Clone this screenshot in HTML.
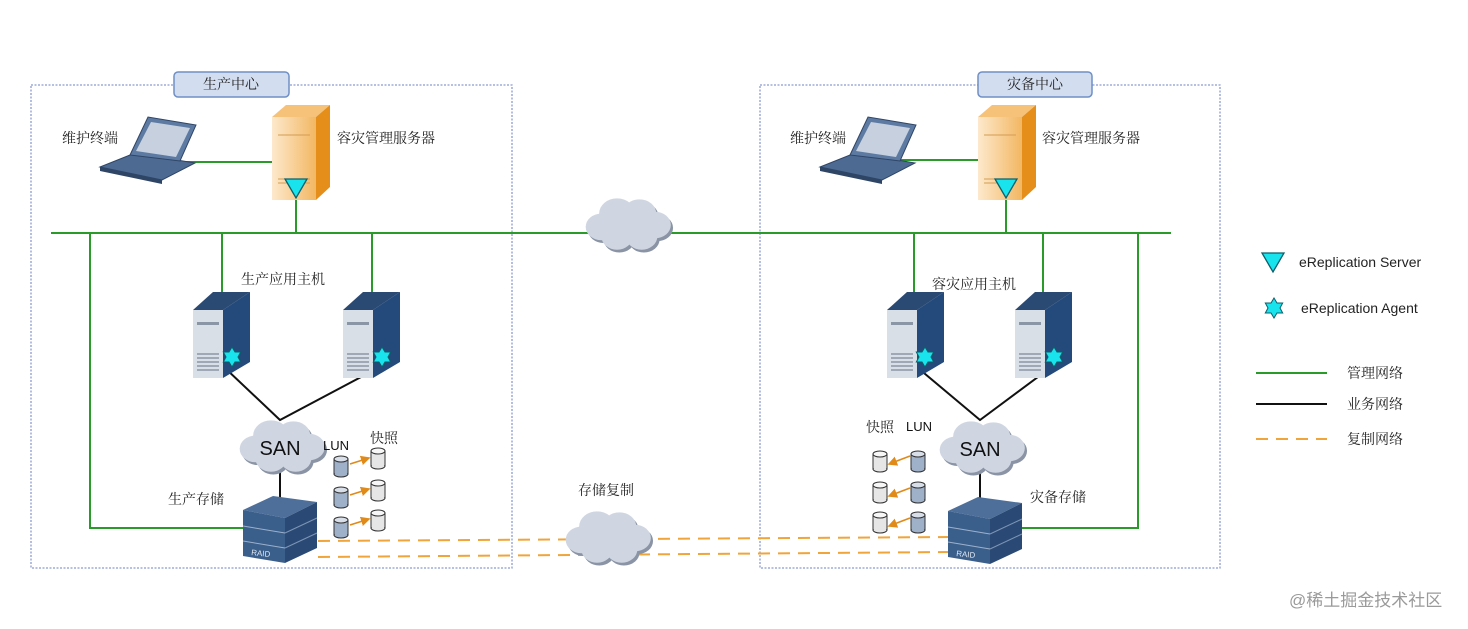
<!DOCTYPE html>
<html><head><meta charset="utf-8"><style>
html,body{margin:0;padding:0;background:#fff;}
svg{display:block;}
text{font-family:"Liberation Sans","Noto Sans CJK SC",sans-serif;}
.cn{font-family:"Liberation Serif","Noto Serif CJK SC",serif;font-size:14px;fill:#222;}
</style></head><body>
<svg width="1468" height="629" viewBox="0 0 1468 629" xmlns="http://www.w3.org/2000/svg">
<defs>
<marker id="ah" markerWidth="6" markerHeight="6" refX="5" refY="3" orient="auto"><polygon points="0,0 6,3 0,6" fill="#e08a1a"/></marker>
<g id="cloudS">
 <g fill="#8a94a4" transform="translate(2,3)">
  <circle cx="-22" cy="2" r="14"/><circle cx="-8" cy="-12" r="16"/><circle cx="12" cy="-12" r="15"/><circle cx="26" cy="0" r="14"/><circle cx="14" cy="12" r="14"/><circle cx="-8" cy="12" r="14"/><circle cx="0" cy="0" r="18"/>
 </g>
 <g fill="#cfd6e2">
  <circle cx="-22" cy="2" r="14"/><circle cx="-8" cy="-12" r="16"/><circle cx="12" cy="-12" r="15"/><circle cx="26" cy="0" r="14"/><circle cx="14" cy="12" r="14"/><circle cx="-8" cy="12" r="14"/><circle cx="0" cy="0" r="18"/>
 </g>
</g>
<g id="cloud"><use href="#cloudS" transform="scale(1.12,0.95)"/></g>
<g id="laptop">
 <polygon points="0,52 62,65 95,48 35,38" fill="#4d6a93" stroke="#2f4566"/>
 <polygon points="30,40 48,2 96,10 80,46" fill="#5d7aa3" stroke="#2f4566"/>
 <polygon points="36,36 51,7 90,13 76,42" fill="#c6d0de"/>
 <polygon points="0,52 62,65 62,69 0,56" fill="#2f4566"/>
</g>
<linearGradient id="og" x1="0" x2="1"><stop offset="0" stop-color="#fde9cc"/><stop offset="1" stop-color="#f2b762"/></linearGradient>
<g id="mserver">
 <polygon points="0,12 14,0 58,0 44,12" fill="#f6c27a"/>
 <polygon points="44,12 58,0 58,82 44,95" fill="#e58e1a"/>
 <rect x="0" y="12" width="44" height="83" fill="url(#og)"/>
 <line x1="6" y1="30" x2="38" y2="30" stroke="#d39c55"/>
 <line x1="6" y1="74" x2="38" y2="74" stroke="#d39c55"/>
 <line x1="6" y1="78" x2="38" y2="78" stroke="#d39c55"/>
</g>
<g id="host">
 <polygon points="0,18 20,0 57,0 30,18" fill="#2b4a73"/>
 <polygon points="30,18 57,0 57,70 30,86" fill="#234a7a"/>
 <rect x="0" y="18" width="30" height="68" fill="#d9dfe7"/>
 <rect x="4" y="30" width="22" height="3" fill="#8a96a6"/>
 <g stroke="#7c8898" stroke-width="1.3"><line x1="4" y1="62" x2="26" y2="62"/><line x1="4" y1="66" x2="26" y2="66"/><line x1="4" y1="70" x2="26" y2="70"/><line x1="4" y1="74" x2="26" y2="74"/><line x1="4" y1="78" x2="26" y2="78"/></g>
</g>
<polygon id="star" points="0,-10 3,-5 8.7,-5 6,0 8.7,5 3,5 0,10 -3,5 -8.7,5 -6,0 -8.7,-5 -3,-5" fill="#19e3ec" stroke="#0c5f6a" stroke-width="1"/>
<polygon id="tri" points="-11,-9 11,-9 0,10" fill="#19e3ec" stroke="#0c5f6a" stroke-width="1.3"/>
<g id="stor">
 <polygon points="0,14 30,0 74,6 42,22" fill="#4d6f99"/>
 <polygon points="0,14 42,22 42,67 0,60" fill="#3b5f8b"/>
 <polygon points="42,22 74,6 74,52 42,67" fill="#2a4a75"/>
 <line x1="0" y1="30" x2="42" y2="37" stroke="#9bb0cc"/>
 <line x1="0" y1="45" x2="42" y2="52" stroke="#9bb0cc"/>
 <line x1="42" y1="37" x2="74" y2="22" stroke="#7d95b5"/>
 <line x1="42" y1="52" x2="74" y2="37" stroke="#7d95b5"/>
 <text x="8" y="59" font-size="8" fill="#dfe7f2" transform="rotate(6 8 59)">RAID</text>
</g>
<g id="cylB"><rect x="-7" y="-7" width="14" height="15" fill="#9fb0c9" stroke="#333"/><ellipse cx="0" cy="8" rx="7" ry="3" fill="#9fb0c9" stroke="#333"/><rect x="-6.5" y="-6" width="13" height="13" fill="#9fb0c9"/><ellipse cx="0" cy="-7" rx="7" ry="3" fill="#d9dfe9" stroke="#333"/></g>
<g id="cylW"><rect x="-7" y="-7" width="14" height="15" fill="#e6e6e6" stroke="#333"/><ellipse cx="0" cy="8" rx="7" ry="3" fill="#e6e6e6" stroke="#333"/><rect x="-6.5" y="-6" width="13" height="13" fill="#e6e6e6"/><ellipse cx="0" cy="-7" rx="7" ry="3" fill="#f7f7f7" stroke="#333"/></g>
</defs>

<rect x="31" y="85" width="481" height="483" fill="none" stroke="#8a9bd0" stroke-width="1.3" stroke-dasharray="2,1.5"/>
<rect x="760" y="85" width="460" height="483" fill="none" stroke="#8a9bd0" stroke-width="1.3" stroke-dasharray="2,1.5"/>
<rect x="174" y="72" width="115" height="25" rx="4" fill="#d2def0" stroke="#6f8fc6" stroke-width="1.5"/>
<text x="231" y="89" class="cn" text-anchor="middle">生产中心</text>
<rect x="978" y="72" width="114" height="25" rx="4" fill="#d2def0" stroke="#6f8fc6" stroke-width="1.5"/>
<text x="1035" y="89" class="cn" text-anchor="middle">灾备中心</text>

<g stroke="#2a9a2a" stroke-width="2" fill="none">
 <line x1="51" y1="233" x2="1171" y2="233"/>
 <polyline points="90,233 90,528 245,528"/>
 <polyline points="1138,233 1138,528 1022,528"/>
 <line x1="222" y1="233" x2="222" y2="295"/><line x1="372" y1="233" x2="372" y2="295"/>
 <line x1="914" y1="233" x2="914" y2="295"/><line x1="1043" y1="233" x2="1043" y2="295"/>
 <line x1="296" y1="195" x2="296" y2="233"/><line x1="1006" y1="195" x2="1006" y2="233"/>
 <line x1="180" y1="162" x2="275" y2="162"/><line x1="900" y1="160" x2="980" y2="160"/>
</g>
<g stroke="#111" stroke-width="2" fill="none">
 <polyline points="225,368 280,420 378,368"/>
 <polyline points="918,368 980,420 1050,368"/>
 <line x1="280" y1="460" x2="280" y2="500"/>
 <line x1="980" y1="460" x2="980" y2="500"/>
</g>
<g stroke="#f0a53a" stroke-width="2" stroke-dasharray="12,8">
 <line x1="318" y1="541" x2="950" y2="537"/>
 <line x1="318" y1="557" x2="950" y2="552"/>
</g>

<use href="#laptop" x="100" y="115"/>
<text x="62" y="143" class="cn">维护终端</text>
<use href="#mserver" x="272" y="105"/>
<use href="#tri" x="296" y="188"/>
<text x="337" y="143" class="cn">容灾管理服务器</text>
<text x="241" y="284" class="cn">生产应用主机</text>
<use href="#host" x="193" y="292"/><use href="#star" x="232" y="357"/>
<use href="#host" x="343" y="292"/><use href="#star" x="382" y="357"/>
<use href="#cloud" x="280" y="447"/>
<text x="280" y="455" font-size="20" text-anchor="middle" fill="#111">SAN</text>
<text x="323" y="450" font-size="13" fill="#111">LUN</text>
<text x="370" y="443" class="cn" font-size="13">快照</text>
<use href="#stor" x="243" y="496"/>
<text x="168" y="504" class="cn">生产存储</text>
<g stroke="#e08a1a" stroke-width="1.6" marker-end="url(#ah)"><line x1="350" y1="464" x2="369" y2="458"/><line x1="350" y1="495" x2="369" y2="489"/><line x1="350" y1="525" x2="369" y2="519"/></g>
<use href="#cylB" x="341" y="466"/><use href="#cylB" x="341" y="497"/><use href="#cylB" x="341" y="527"/>
<use href="#cylW" x="378" y="458"/><use href="#cylW" x="378" y="490"/><use href="#cylW" x="378" y="520"/>

<use href="#cloud" x="626" y="225"/>
<text x="578" y="495" class="cn">存储复制</text>
<use href="#cloud" x="606" y="538"/>

<use href="#laptop" x="820" y="115"/>
<text x="790" y="143" class="cn">维护终端</text>
<use href="#mserver" x="978" y="105"/>
<use href="#tri" x="1006" y="188"/>
<text x="1042" y="143" class="cn">容灾管理服务器</text>
<text x="932" y="289" class="cn">容灾应用主机</text>
<use href="#host" x="887" y="292"/><use href="#star" x="925" y="357"/>
<use href="#host" x="1015" y="292"/><use href="#star" x="1054" y="357"/>
<use href="#cloud" x="980" y="448"/>
<text x="980" y="456" font-size="20" text-anchor="middle" fill="#111">SAN</text>
<text x="866" y="432" class="cn" font-size="13">快照</text>
<text x="906" y="431" font-size="13" fill="#111">LUN</text>
<use href="#stor" x="948" y="497"/>
<text x="1030" y="502" class="cn">灾备存储</text>
<g stroke="#e08a1a" stroke-width="1.6" marker-end="url(#ah)"><line x1="910" y1="456" x2="889" y2="464"/><line x1="910" y1="488" x2="889" y2="496"/><line x1="910" y1="518" x2="889" y2="526"/></g>
<use href="#cylW" x="880" y="461"/><use href="#cylW" x="880" y="492"/><use href="#cylW" x="880" y="522"/>
<use href="#cylB" x="918" y="461"/><use href="#cylB" x="918" y="492"/><use href="#cylB" x="918" y="522"/>

<use href="#tri" x="1273" y="262"/>
<text x="1299" y="267" font-size="14" fill="#222">eReplication Server</text>
<use href="#star" x="1274" y="308"/>
<text x="1301" y="313" font-size="14" fill="#222">eReplication Agent</text>
<line x1="1256" y1="373" x2="1327" y2="373" stroke="#2a9a2a" stroke-width="2"/>
<line x1="1256" y1="404" x2="1327" y2="404" stroke="#111" stroke-width="2"/>
<line x1="1256" y1="439" x2="1327" y2="439" stroke="#f0a53a" stroke-width="2" stroke-dasharray="12,8"/>
<text x="1347" y="378" class="cn">管理网络</text>
<text x="1347" y="409" class="cn">业务网络</text>
<text x="1347" y="444" class="cn">复制网络</text>

<text x="1289" y="606" font-size="17" fill="#9a9a9a" font-family="'Liberation Sans','Noto Sans CJK SC',sans-serif">@稀土掘金技术社区</text>
</svg>
</body></html>
